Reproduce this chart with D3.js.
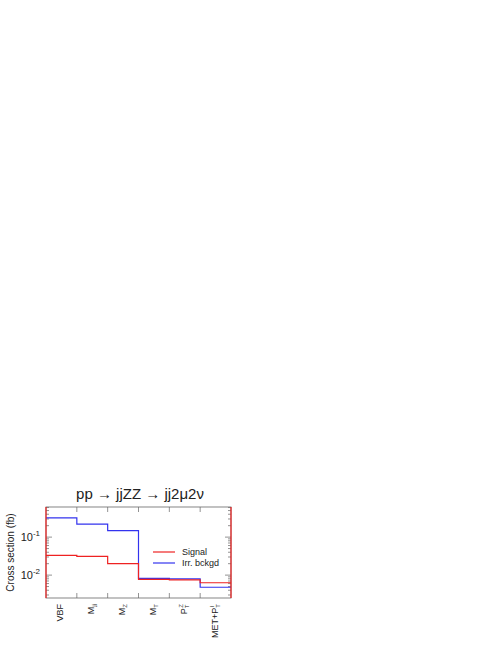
<!DOCTYPE html>
<html><head><meta charset="utf-8">
<script src="https://cdn.jsdelivr.net/npm/d3@7"></script>
<style>body{margin:0;background:#fff}text{font-family:"Liberation Sans",Arial,sans-serif;fill:#222}</style>
</head><body><div id="root"></div>
<script>
const cuts = ["VBF", "Mjj", "MZ", "MT", "PTZ", "MET+PTl"];
const signal = [0.033, 0.031, 0.020, 0.0077, 0.0075, 0.0063];
const bkg = [0.32, 0.22, 0.148, 0.0082, 0.008, 0.0048];
const yTicks = [0.01, 0.1];

const width = 498, height = 645;
const x0 = 46, x1 = 231, yTop = 507, yBot = 598;

const svg = d3.select("#root").append("svg").attr("width", width).attr("height", height);

const xScale = d3.scaleBand().domain(cuts).range([x0, x1]).padding(0);
const yScale = d3.scaleLog().domain([0.0025, 0.62]).range([yBot, yTop]);

// minor ticks on log axis
const minors = [];
for (let e = -3; e <= 0; e++) for (let m = 1; m < 10; m++) {
  const v = m * Math.pow(10, e);
  if (v > 0.0025 && v < 0.62) minors.push({ v, major: m === 1 });
}
const g = svg.append("g").attr("stroke", "#777").attr("stroke-width", 0.8);
minors.forEach((d) => {
  const y = yScale(d.v), l = d.major ? 6 : 3;
  g.append("line").attr("x1", x0).attr("x2", x0 + l).attr("y1", y).attr("y2", y);
  g.append("line").attr("x1", x1).attr("x2", x1 - l).attr("y1", y).attr("y2", y);
});
cuts.forEach((c, i) => {
  if (i === 0) return;
  const x = xScale(c);
  g.append("line").attr("x1", x).attr("x2", x).attr("y1", yBot).attr("y2", yBot - 5);
  g.append("line").attr("x1", x).attr("x2", x).attr("y1", yTop).attr("y2", yTop + 5);
});
svg.append("rect").attr("x", x0).attr("y", yTop).attr("width", x1 - x0).attr("height", yBot - yTop)
  .attr("fill", "none").attr("stroke", "#666").attr("stroke-width", 0.8);

const step = (vals) => {
  const pts = [];
  vals.forEach((v, i) => {
    pts.push([xScale(cuts[i]), yScale(v)]);
    pts.push([xScale(cuts[i]) + xScale.bandwidth(), yScale(v)]);
  });
  return d3.line()(pts);
};
svg.append("path").attr("d", step(bkg)).attr("fill", "none").attr("stroke", "#3333ee").attr("stroke-width", 1.2);
svg.append("path").attr("d", step(signal)).attr("fill", "none").attr("stroke", "#ee2222").attr("stroke-width", 1.2);
// signal histogram edges
svg.append("line").attr("x1", x0).attr("x2", x0).attr("y1", yTop).attr("y2", yBot).attr("stroke", "#ee2222").attr("stroke-width", 1.2);
svg.append("line").attr("x1", x1).attr("x2", x1).attr("y1", yTop).attr("y2", yBot).attr("stroke", "#ee2222").attr("stroke-width", 1.2);

// y tick labels
yTicks.forEach((v) => {
  const t = svg.append("text").attr("x", x0 - 6).attr("y", yScale(v) + 4).attr("text-anchor", "end").attr("font-size", 11);
  t.append("tspan").text("10");
  t.append("tspan").attr("dy", -5).attr("font-size", 8).text(Math.round(Math.log10(v)));
});

// x labels
const labelParts = {
  "VBF": [["VBF", ""]],
  "Mjj": [["M", ""], ["jj", "sub"]],
  "MZ": [["M", ""], ["Z", "sub"]],
  "MT": [["M", ""], ["T", "sub"]],
  "PTZ": [["P", ""], ["T", "sub"], ["Z", "sup"]],
  "MET+PTl": [["MET+P", ""], ["T", "sub"], ["l", "sup"]]
};
cuts.forEach((c) => {
  const cx = xScale(c) + xScale.bandwidth() / 2 - 2;
  const t = svg.append("text").attr("transform", `translate(${cx + 4},${yBot + 6}) rotate(-90)`)
    .attr("text-anchor", "end").attr("font-size", 9);
  let prev = "";
  labelParts[c].forEach(([s, k]) => {
    const sp = t.append("tspan").text(s);
    if (k) sp.attr("font-size", 6);
    let dy = 0;
    const cur = k === "sub" ? 2 : k === "sup" ? -4 : 0;
    const old = prev === "sub" ? 2 : prev === "sup" ? -4 : 0;
    dy = cur - old;
    if (dy) sp.attr("dy", dy);
    if (k === "sup" && prev === "sub") sp.attr("dx", -3);
    prev = k;
  });
});

// axis title
svg.append("text").attr("transform", `translate(14,${(yTop + yBot) / 2}) rotate(-90)`)
  .attr("text-anchor", "middle").attr("font-size", 10).text("Cross section (fb)");

// title
svg.append("text").attr("x", 140).attr("y", 499).attr("text-anchor", "middle").attr("font-size", 15)
  .text("pp \u2192 jjZZ \u2192 jj2\u03bc2\u03bd");

// legend
const legend = [["Signal", "#ee2222"], ["Irr. bckgd", "#3333ee"]];
legend.forEach(([name, col], i) => {
  const y = 552 + i * 11;
  svg.append("line").attr("x1", 153).attr("x2", 175).attr("y1", y).attr("y2", y).attr("stroke", col).attr("stroke-width", 1.2);
  svg.append("text").attr("x", 182).attr("y", y + 3).attr("font-size", 9).text(name);
});
</script></body></html>
